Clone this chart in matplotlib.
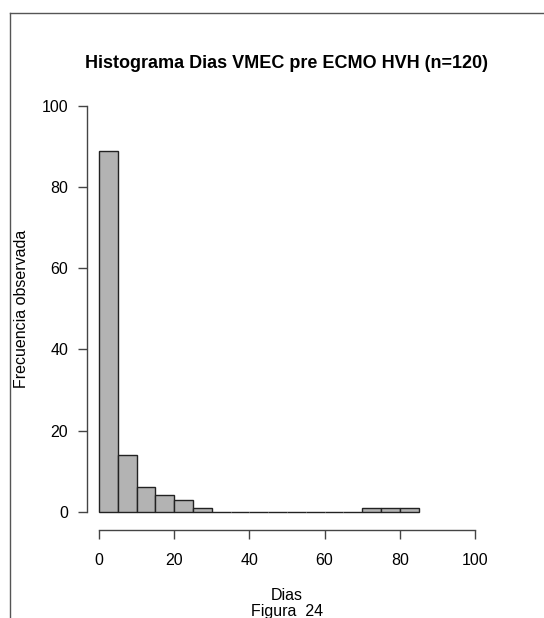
import numpy as np
import matplotlib.pyplot as plt
from matplotlib.lines import Line2D

plt.rcParams['font.family'] = ['Liberation Sans', 'DejaVu Sans']

# histogram of days on VMEC before ECMO, 5-day bins
bin_edges = [0, 5, 10, 15, 20, 25, 30, 35, 40, 45, 50, 55, 60, 65, 70, 75, 80, 85]
counts = [89, 14, 6, 4, 3, 1, 0, 0, 0, 0, 0, 0, 0, 0, 1, 1, 1]
x_ticks = [0, 20, 40, 60, 80, 100]
y_ticks = [0, 20, 40, 60, 80, 100]

fig = plt.figure(figsize=(5.44, 6.18), dpi=100)
ax = fig.add_axes([0.1543, 0.1458, 0.7465, 0.7089])

edges = np.array(bin_edges)
ax.bar(edges[:-1], counts, width=np.diff(edges), align='edge',
       color='#b3b3b3', edgecolor='#222222', linewidth=1.0)

ax.set_xlim(-4, 104)
ax.set_ylim(-4, 104)

for s in ['top', 'right']:
    ax.spines[s].set_visible(False)
ax.spines['left'].set_position(('data', -3.2))
ax.spines['bottom'].set_position(('data', -4.5))
ax.spines['left'].set_bounds(0, 100)
ax.spines['bottom'].set_bounds(0, 100)
for s in ['left', 'bottom']:
    ax.spines[s].set_color('#444444')
    ax.spines[s].set_linewidth(1.0)

ax.set_xticks(x_ticks)
ax.set_yticks(y_ticks)
ax.tick_params(axis='both', direction='out', length=6.5, width=1.0,
               color='#444444', labelsize=11.5)
ax.tick_params(axis='x', pad=10)
ax.tick_params(axis='y', pad=7)

fig.text(0.527, 0.898, 'Histograma Dias VMEC pre ECMO HVH (n=120)',
         ha='center', va='center', fontsize=13, fontweight='bold')
fig.text(0.5275, 0.037, 'Dias', ha='center', va='center', fontsize=11.5)
fig.text(0.5275, 0.010, 'Figura  24', ha='center', va='center', fontsize=11.5)
fig.text(0.039, 0.5, 'Frecuencia observada', ha='center', va='center',
         rotation=90, fontsize=11.5)

# frame around the figure (left and top edges)
fig.add_artist(Line2D([10 / 544, 10 / 544], [0, 1 - 13 / 618],
                      transform=fig.transFigure, color='#555555', lw=1.0))
fig.add_artist(Line2D([10 / 544, 1], [1 - 13 / 618, 1 - 13 / 618],
                      transform=fig.transFigure, color='#555555', lw=1.0))

fig.savefig('out.png', dpi=100)
